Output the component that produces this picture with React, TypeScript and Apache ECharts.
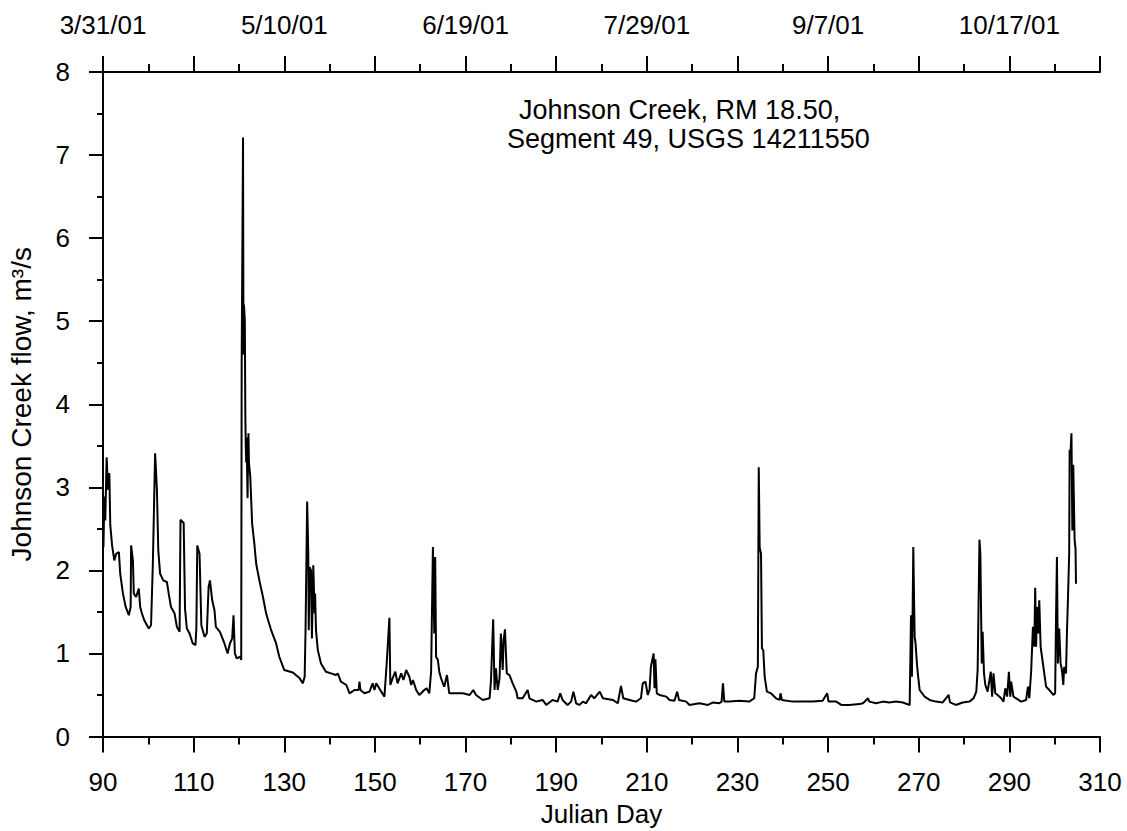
import React, { useEffect, useRef } from "react";
import * as echarts from "echarts";

const flowDays = [
  90.1, 90.3, 90.5, 90.8, 91.1, 91.4, 91.6, 92.0, 92.5, 92.9, 93.5, 93.8, 94.4, 95.0, 95.7, 96.1, 96.2, 96.6, 96.8, 97.3,
  97.9, 98.2, 98.6, 99.1, 100.1, 100.6, 101.0, 101.5, 101.9, 102.2, 102.6, 103.3, 104.1, 104.5, 105.0, 105.8, 106.3, 106.9, 107.1, 107.8,
  108.1, 108.5, 109.1, 109.8, 110.4, 110.6, 110.8, 111.3, 111.7, 112.4, 112.9, 113.3, 113.6, 114.1, 114.6, 114.9, 115.8, 116.8, 117.5, 118.0,
  118.5, 118.8, 119.1, 119.5, 120.3, 120.5, 120.6, 120.9, 121.0, 121.1, 121.3, 121.4, 121.5, 121.6, 121.7, 121.8, 121.9, 122.0, 122.1, 122.2,
  122.5, 122.9, 123.4, 123.8, 124.5, 125.3, 126.0, 127.1, 128.2, 128.9, 130.0, 131.9, 133.4, 134.1, 134.5, 134.7, 135.05, 135.3, 135.4, 135.6,
  135.9, 136.1, 136.4, 136.7, 136.8, 137.0, 137.4, 138.1, 139.2, 140.3, 141.4, 141.8, 142.5, 143.7, 144.4, 145.5, 146.4, 146.6, 146.8, 147.7,
  148.8, 149.5, 149.9, 150.3, 151.4, 152.1, 152.6, 153.2, 153.4, 153.9, 154.5, 155.0, 155.8, 156.3, 156.9, 157.6, 158.0, 158.4, 159.1, 159.8,
  160.9, 161.4, 162.0, 162.4, 162.8, 163.1, 163.3, 163.5, 163.9, 164.2, 164.6, 165.0, 165.3, 165.9, 166.4, 167.9, 169.4, 170.9, 171.7, 172.3,
  173.8, 175.3, 175.6, 176.1, 176.4, 176.7, 177.1, 177.5, 177.8, 178.2, 178.4, 178.7, 179.1, 179.7, 180.4, 181.2, 181.5, 182.6, 183.7, 184.1,
  185.6, 187.0, 187.8, 189.2, 190.3, 190.9, 191.4, 192.5, 193.3, 193.8, 194.4, 195.1, 195.9, 196.6, 197.7, 198.4, 199.6, 200.3, 202.5, 203.6,
  204.3, 204.8, 206.2, 207.6, 208.7, 209.1, 209.7, 210.2, 210.6, 210.9, 211.5, 211.7, 211.9, 212.2, 212.8, 214.3, 215.0, 216.1, 216.7, 217.1,
  218.7, 219.4, 221.6, 223.5, 224.6, 226.0, 226.5, 226.8, 227.1, 228.2, 230.4, 232.6, 233.7, 234.1, 234.5, 234.7, 234.9, 235.2, 235.4, 235.7,
  236.0, 236.5, 237.4, 238.5, 239.3, 239.5, 239.8, 242.2, 244.4, 246.6, 248.8, 249.8, 250.1, 251.8, 252.9, 254.7, 256.9, 257.7, 258.8, 259.1,
  260.6, 262.1, 263.5, 265.0, 266.5, 268.0, 268.3, 268.5, 268.8, 269.1, 269.3, 269.6, 269.8, 270.2, 271.3, 272.4, 273.8, 275.3, 276.6, 276.9,
  278.2, 279.7, 281.2, 282.1, 282.7, 283.0, 283.4, 283.6, 283.9, 284.1, 284.4, 284.7, 285.2, 285.9, 286.2, 286.5, 286.9, 287.4, 288.2, 288.7,
  289.1, 289.5, 289.9, 290.2, 290.4, 290.9, 291.5, 292.6, 293.7, 294.1, 294.4, 294.8, 295.2, 295.5, 295.7, 295.9, 296.1, 296.4, 296.6, 296.9,
  297.2, 297.7, 298.1, 298.8, 299.7, 300.1, 300.3, 300.5, 300.7, 301.0, 301.3, 301.6, 301.9, 302.1, 302.5, 302.7, 302.9, 303.2, 303.3, 303.5,
  303.7, 303.9, 304.1, 304.4, 304.6, 304.7,
];

const flowValues = [
  2.28, 2.89, 2.6, 3.36, 2.97, 3.17, 2.55, 2.3, 2.12, 2.2, 2.22, 1.96, 1.72, 1.56, 1.46, 1.56, 2.3, 2.12, 1.72, 1.68,
  1.78, 1.56, 1.48, 1.4, 1.3, 1.34, 2.08, 3.41, 2.97, 2.24, 1.96, 1.88, 1.86, 1.72, 1.56, 1.48, 1.32, 1.26, 2.61, 2.57,
  1.54, 1.3, 1.24, 1.12, 1.1, 1.3, 2.3, 2.2, 1.34, 1.2, 1.24, 1.8, 1.88, 1.64, 1.52, 1.32, 1.26, 1.12, 1.0, 1.12,
  1.18, 1.46, 1.0, 0.94, 0.96, 0.92, 4.5, 7.21, 4.6, 5.2, 5.0, 3.9, 3.5, 3.3, 3.6, 3.2, 2.87, 3.4, 3.65, 3.3,
  3.13, 2.57, 2.32, 2.08, 1.88, 1.68, 1.48, 1.28, 1.12, 0.96, 0.8, 0.77, 0.7, 0.64, 0.72, 1.3, 2.83, 2.2, 1.28, 2.04,
  2.0, 1.18, 2.06, 1.48, 1.72, 1.28, 1.04, 0.88, 0.78, 0.76, 0.74, 0.76, 0.66, 0.62, 0.52, 0.56, 0.56, 0.66, 0.56, 0.52,
  0.54, 0.64, 0.56, 0.64, 0.54, 0.48, 0.88, 1.43, 0.62, 0.7, 0.78, 0.64, 0.76, 0.68, 0.8, 0.72, 0.62, 0.68, 0.56, 0.5,
  0.56, 0.58, 0.52, 0.78, 2.28, 1.24, 2.16, 0.96, 0.92, 0.78, 0.7, 0.64, 0.6, 0.74, 0.52, 0.52, 0.52, 0.5, 0.56, 0.5,
  0.44, 0.46, 0.66, 1.41, 0.56, 0.82, 0.56, 0.7, 1.24, 0.8, 1.16, 1.29, 0.76, 0.74, 0.64, 0.54, 0.46, 0.46, 0.56, 0.46,
  0.42, 0.44, 0.38, 0.44, 0.42, 0.52, 0.44, 0.38, 0.42, 0.54, 0.4, 0.38, 0.42, 0.4, 0.5, 0.46, 0.54, 0.46, 0.44, 0.4,
  0.61, 0.46, 0.44, 0.42, 0.46, 0.64, 0.66, 0.5, 0.56, 0.84, 1.0, 0.58, 0.93, 0.52, 0.5, 0.48, 0.44, 0.43, 0.54, 0.44,
  0.42, 0.38, 0.4, 0.38, 0.41, 0.4, 0.42, 0.64, 0.42, 0.42, 0.43, 0.42, 0.46, 0.76, 0.84, 3.24, 2.28, 2.2, 1.06, 1.04,
  0.72, 0.54, 0.52, 0.46, 0.44, 0.52, 0.44, 0.42, 0.42, 0.42, 0.43, 0.52, 0.42, 0.42, 0.38, 0.38, 0.39, 0.4, 0.46, 0.42,
  0.4, 0.42, 0.41, 0.42, 0.41, 0.38, 1.46, 0.72, 2.28, 1.2, 1.12, 0.88, 0.76, 0.56, 0.48, 0.44, 0.42, 0.41, 0.5, 0.41,
  0.38, 0.41, 0.42, 0.46, 0.54, 0.8, 2.37, 2.2, 0.88, 1.26, 0.76, 0.62, 0.54, 0.78, 0.48, 0.76, 0.52, 0.5, 0.46, 0.42,
  0.58, 0.48, 0.78, 0.48, 0.66, 0.48, 0.46, 0.42, 0.44, 0.6, 0.46, 0.78, 1.32, 1.08, 1.79, 1.08, 1.56, 1.24, 1.64, 1.08,
  0.96, 0.76, 0.6, 0.56, 0.5, 0.52, 1.44, 2.16, 0.88, 1.3, 0.88, 0.8, 0.62, 0.84, 0.76, 1.24, 1.6, 2.2, 3.45, 3.43,
  3.65, 2.48, 3.27, 2.36, 2.26, 1.84,
];

const topTickDays = [90, 130, 170, 210, 250, 290];
const topTickLabels = ["3/31/01", "5/10/01", "6/19/01", "7/29/01", "9/7/01", "10/17/01"];
const titleLines = ["Johnson Creek, RM 18.50,", "Segment 49, USGS 14211550"];

const FONT = "Liberation Sans, Arial, sans-serif";

export default function App() {
  const ref = useRef<HTMLDivElement>(null);
  useEffect(() => {
    if (!ref.current) return;
    const chart = echarts.init(ref.current, undefined, { renderer: "svg" });
    const data = flowDays.map((d, i) => [d, flowValues[i]]);
    const axisCommon = {
      type: "value" as const,
      min: 90,
      max: 310,
      interval: 20,
      splitLine: { show: false },
      axisLine: { show: true, onZero: false, lineStyle: { color: "#000", width: 2 } },
      axisTick: { show: true, length: 16, lineStyle: { color: "#000", width: 2 } },
      minorTick: { show: true, splitNumber: 2, length: 8, lineStyle: { color: "#000", width: 2 } },
      minorSplitLine: { show: false },
    };
    chart.setOption({
      animation: false,
      backgroundColor: "#fff",
      grid: { left: 103, right: 27, top: 72, bottom: 94.5, containLabel: false, outerBoundsMode: "none" },
      xAxis: [
        {
          ...axisCommon,
          position: "bottom",
          name: "Julian Day",
          nameLocation: "middle",
          nameGap: 64,
          nameTextStyle: { color: "#000", fontSize: 26, fontFamily: FONT },
          axisLabel: { color: "#000", fontSize: 26, fontFamily: FONT, margin: 32, showMinLabel: true, showMaxLabel: true },
        },
        {
          ...axisCommon,
          position: "top",
          axisLabel: {
            color: "#000",
            fontSize: 26,
            fontFamily: FONT,
            margin: 34,
            showMinLabel: true,
            showMaxLabel: true,
            formatter: (v: number) => {
              const i = topTickDays.indexOf(v);
              return i >= 0 ? topTickLabels[i] : "";
            },
          },
        },
      ],
      yAxis: {
        type: "value",
        min: 0,
        max: 8,
        interval: 1,
        splitLine: { show: false },
        axisLine: { show: true, onZero: false, lineStyle: { color: "#000", width: 2 } },
        axisTick: { show: true, length: 14, lineStyle: { color: "#000", width: 2 } },
        minorTick: { show: true, splitNumber: 2, length: 6, lineStyle: { color: "#000", width: 2 } },
        axisLabel: { color: "#000", fontSize: 26, fontFamily: FONT, margin: 33 },
        name: "Johnson Creek flow, m³/s",
        nameLocation: "middle",
        nameGap: 68,
        nameTextStyle: { color: "#000", fontSize: 28, fontFamily: FONT },
      },
      graphic: [
        {
          type: "text",
          left: 519,
          top: 96,
          style: { text: titleLines[0], fill: "#000", font: `27px ${FONT}` },
        },
        {
          type: "text",
          left: 507,
          top: 125,
          style: { text: titleLines[1], fill: "#000", font: `27px ${FONT}` },
        },
      ],
      series: [
        {
          type: "line",
          xAxisIndex: 0,
          data,
          showSymbol: false,
          symbol: "none",
          lineStyle: { color: "#000", width: 2 },
          silent: true,
        },
      ],
    });
    return () => chart.dispose();
  }, []);
  return (
    <div
      ref={ref}
      style={{ position: "absolute", left: 0, top: 0, width: 1127, height: 831 }}
    />
  );
}
